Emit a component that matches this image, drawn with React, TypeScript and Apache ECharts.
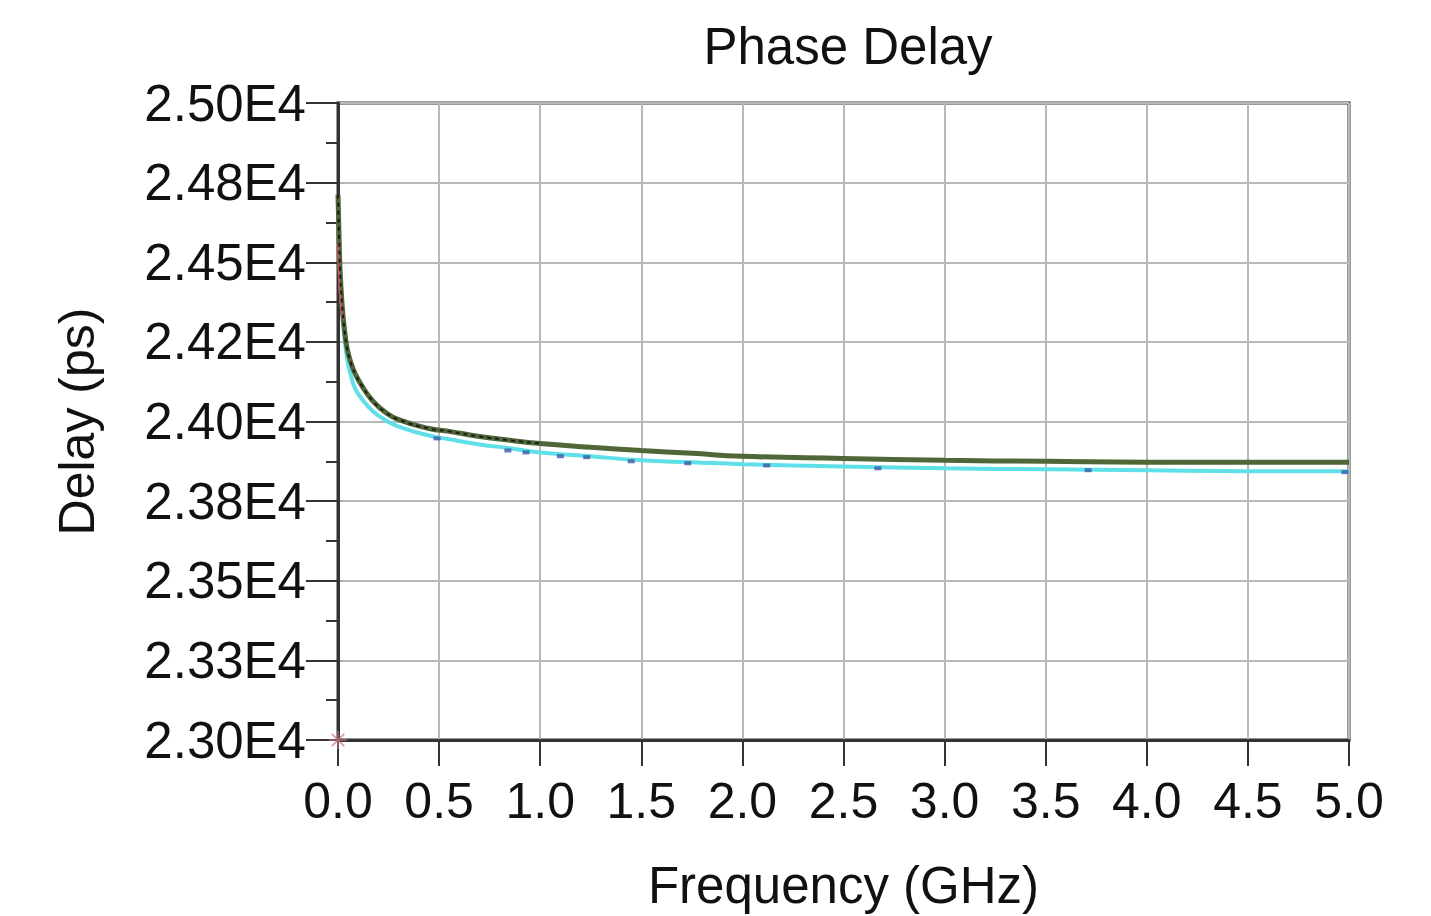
import React, { useEffect, useRef } from "react";
import * as echarts from "echarts";

const yTickLabels: Record<number, string> = {
  23000: "2.30E4",
  23250: "2.33E4",
  23500: "2.35E4",
  23750: "2.38E4",
  24000: "2.40E4",
  24250: "2.42E4",
  24500: "2.45E4",
  24750: "2.48E4",
  25000: "2.50E4",
};

const greenFreq = [0, 0.005, 0.01, 0.02, 0.03, 0.045, 0.065, 0.085, 0.12, 0.17, 0.23, 0.3, 0.45, 0.55, 0.7, 0.85, 1.0, 1.25, 1.5, 1.75, 2.0, 2.5, 3.0, 3.5, 4.0, 4.5, 5.0];
const greenDelay = [24712, 24587, 24478, 24369, 24300, 24230, 24182, 24150, 24110, 24066, 24031, 24006, 23978, 23969, 23953, 23941, 23931, 23919, 23909, 23900, 23891, 23884, 23878, 23875, 23872, 23872, 23872];

const cyanFreq = [0, 0.005, 0.01, 0.02, 0.03, 0.045, 0.065, 0.085, 0.12, 0.17, 0.23, 0.3, 0.45, 0.55, 0.7, 0.85, 1.0, 1.25, 1.5, 1.75, 2.0, 2.5, 3.0, 3.5, 4.0, 4.5, 5.0];
const cyanDelay = [24697, 24570, 24462, 24347, 24275, 24197, 24141, 24103, 24069, 24034, 24006, 23984, 23956, 23944, 23928, 23916, 23903, 23891, 23878, 23872, 23866, 23859, 23853, 23850, 23847, 23844, 23844];

const blueFreq = [0.49, 0.84, 0.93, 1.1, 1.23, 1.45, 1.73, 2.12, 2.67, 3.71, 4.98];
const blueDelay = [23947, 23909, 23903, 23891, 23888, 23875, 23869, 23862, 23853, 23847, 23841];

const blackFreq = [0, 0.005, 0.01, 0.02, 0.03, 0.045, 0.065, 0.085, 0.12, 0.17, 0.23, 0.3, 0.45, 0.55, 0.7, 0.85, 1.0];
const blackDelay = [24712, 24587, 24478, 24369, 24300, 24230, 24182, 24150, 24110, 24066, 24031, 24006, 23978, 23969, 23953, 23941, 23931];

const redFreq = [0, 0.004, 0.008, 0.015, 0.025];
const redDelay = [24560, 24480, 24420, 24360, 24320];

const starPoint = [[0, 23000]];

const toPairs = (xs: number[], ys: number[]) => xs.map((x, i) => [x, ys[i]]);

export default function App() {
  const ref = useRef<HTMLDivElement>(null);
  useEffect(() => {
    if (!ref.current) return;
    const chart = echarts.init(ref.current, null, { renderer: "svg" });
    const font = "Liberation Sans, Arial, sans-serif";
    chart.setOption({
      animation: false,
      backgroundColor: "#ffffff",
      title: {
        text: "Phase Delay",
        left: 843,
        textAlign: "center",
        top: 16,
        textStyle: { fontFamily: font, fontSize: 51, fontWeight: "normal", color: "#111" },
      },
      grid: { left: 338, right: 82, top: 103, bottom: 172, show: true, borderColor: "#333", borderWidth: 3 },
      xAxis: {
        type: "value",
        min: 0,
        max: 5,
        interval: 0.5,
        name: "Frequency (GHz)",
        nameLocation: "middle",
        nameGap: 120,
        nameTextStyle: { fontFamily: font, fontSize: 51, color: "#111" },
        axisLine: { show: true, onZero: false, lineStyle: { color: "#333", width: 3 } },
        axisTick: { show: true, length: 26, lineStyle: { color: "#333", width: 2 } },
        axisLabel: {
          margin: 36,
          fontFamily: font,
          fontSize: 50,
          color: "#111",
          formatter: (v: number) => v.toFixed(1),
        },
        splitLine: { show: true, lineStyle: { color: "#b8b8b8", width: 2 } },
      },
      yAxis: {
        type: "value",
        min: 23000,
        max: 25000,
        interval: 250,
        name: "Delay (ps)",
        nameLocation: "middle",
        nameGap: 236,
        nameTextStyle: { fontFamily: font, fontSize: 50, color: "#111" },
        axisLine: { show: true, onZero: false, lineStyle: { color: "#333", width: 3 } },
        axisTick: { show: true, length: 32, lineStyle: { color: "#333", width: 2 } },
        minorTick: { show: true, splitNumber: 2, length: 12, lineStyle: { color: "#333", width: 2 } },
        axisLabel: {
          margin: 32,
          fontFamily: font,
          fontSize: 51,
          color: "#111",
          formatter: (v: number) => yTickLabels[Math.round(v)] ?? "",
        },
        splitLine: { show: true, lineStyle: { color: "#b8b8b8", width: 2 } },
      },
      series: [
        {
          type: "line",
          data: toPairs(cyanFreq, cyanDelay),
          showSymbol: false,
          smooth: true,
          lineStyle: { color: "#5fe0e8", width: 4 },
          z: 2,
        },
        {
          type: "scatter",
          data: toPairs(blueFreq, blueDelay),
          symbol: "rect",
          symbolSize: [7, 4],
          itemStyle: { color: "#3a5aa8" },
          z: 3,
        },
        {
          type: "line",
          data: toPairs(greenFreq, greenDelay),
          showSymbol: false,
          smooth: true,
          lineStyle: { color: "#4f6636", width: 5 },
          z: 4,
        },
        {
          type: "line",
          data: toPairs(redFreq, redDelay),
          showSymbol: false,
          smooth: true,
          lineStyle: { color: "#c85060", width: 2 },
          z: 5,
        },
        {
          type: "line",
          data: toPairs(blackFreq, blackDelay),
          showSymbol: false,
          smooth: true,
          lineStyle: { color: "#1a1a1a", width: 2, type: [4, 4] },
          z: 6,
        },
        {
          type: "scatter",
          data: starPoint,
          symbol: "path://M0,-10L0,10M-10,0L10,0M-7,-7L7,7M-7,7L7,-7",
          symbolSize: 18,
          itemStyle: { color: "none", borderColor: "#c07080", borderWidth: 1.5 },
          z: 7,
        },
      ],
    });
    return () => chart.dispose();
  }, []);
  return (
    <div
      ref={ref}
      style={{ position: "fixed", left: 0, top: 0, width: 1431, height: 916, background: "#fff" }}
    />
  );
}
